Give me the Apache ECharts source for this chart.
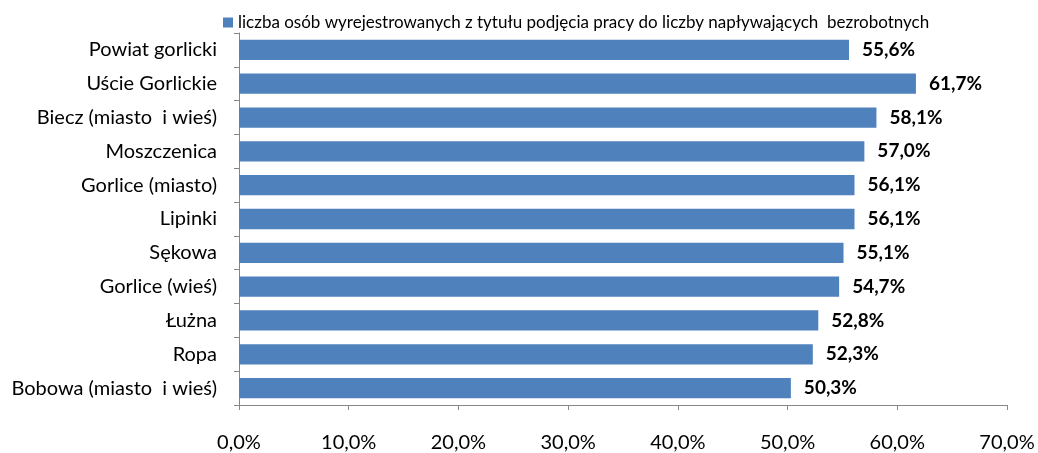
<!DOCTYPE html>
<html>
<head>
<meta charset="utf-8">
<script src="https://cdn.jsdelivr.net/npm/echarts@6/dist/echarts.min.js"></script>
<style>
html, body { margin: 0; padding: 0; background: #fff; }
#chart { width: 1038px; height: 453px; }
</style>
</head>
<body>
<div id="chart"></div>
<script>
var categories = ['Powiat gorlicki', 'Uście Gorlickie', 'Biecz (miasto  i wieś)', 'Moszczenica',
    'Gorlice (miasto)', 'Lipinki', 'Sękowa', 'Gorlice (wieś)', 'Łużna', 'Ropa', 'Bobowa (miasto  i wieś)'];
var values = [55.6, 61.7, 58.1, 57.0, 56.1, 56.1, 55.1, 54.7, 52.8, 52.3, 50.3];
var seriesName = 'liczba osób wyrejestrowanych z tytułu podjęcia pracy do liczby napływających  bezrobotnych';

var font = 'Lato, "Open Sans", sans-serif';
var fmt = function (v) { return v.toFixed(1).replace('.', ',') + '%'; };

var myChart = echarts.init(document.getElementById('chart'));
var option = {
    animation: false,
    textStyle: { fontFamily: font },
    legend: {
        left: 218,
        top: 9,
        itemWidth: 10,
        itemHeight: 10,
        itemGap: 4,
        icon: 'rect',
        textStyle: { fontSize: 17, color: '#000', fontFamily: font },
        data: [seriesName]
    },
    grid: {
        left: 239,
        right: 31,
        top: 33,
        bottom: 48,
        containLabel: false
    },
    xAxis: {
        type: 'value',
        min: 0,
        max: 70,
        interval: 10,
        splitLine: { show: false },
        axisLine: { show: true, lineStyle: { color: '#868686' } },
        axisTick: { show: true, length: 5, lineStyle: { color: '#868686' } },
        axisLabel: {
            margin: 28,
            fontSize: 20,
            color: '#000',
            fontFamily: font,
            formatter: function (v) { return fmt(v); }
        }
    },
    yAxis: {
        type: 'category',
        inverse: true,
        data: categories,
        axisLine: { show: true, lineStyle: { color: '#868686' } },
        axisTick: { show: true, length: 5, lineStyle: { color: '#868686' } },
        axisLabel: {
            margin: 22,
            fontSize: 20,
            color: '#000',
            fontFamily: font
        }
    },
    series: [{
        name: seriesName,
        type: 'bar',
        data: values,
        barCategoryGap: '40%',
        itemStyle: { color: '#4f81bd' },
        label: {
            show: true,
            position: 'right',
            distance: 13,
            fontSize: 19,
            fontWeight: 'bold',
            color: '#000',
            fontFamily: font,
            formatter: function (p) { return fmt(p.value); }
        }
    }]
};
myChart.setOption(option, true);
</script>
</body>
</html>
